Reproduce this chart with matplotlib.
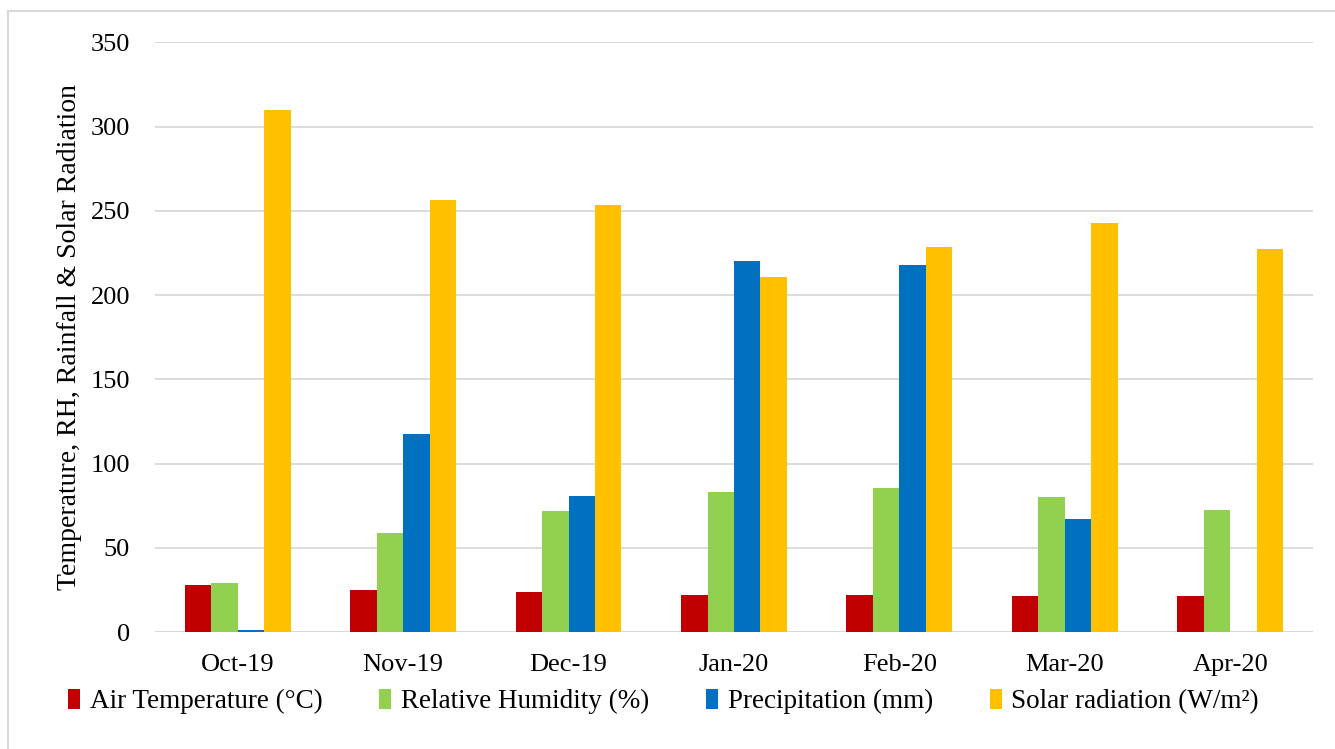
import matplotlib.pyplot as plt
from matplotlib.lines import Line2D
import numpy as np

plt.rcParams['font.family'] = ['Liberation Serif', 'DejaVu Serif']

months = ['Oct-19', 'Nov-19', 'Dec-19', 'Jan-20', 'Feb-20', 'Mar-20', 'Apr-20']
air_temp = [27.7, 25.1, 23.5, 22.2, 22.2, 21.1, 21.1]
rel_hum = [29.0, 58.5, 71.6, 83.3, 85.7, 80.1, 72.2]
precip = [1.0, 117.7, 80.9, 220.5, 217.9, 67.3, 0.0]
solar = [309.7, 256.3, 253.7, 210.8, 228.4, 242.6, 227.6]

labels = ['Air Temperature (°C)', 'Relative Humidity (%)',
          'Precipitation (mm)', 'Solar radiation (W/m²)']
colors = ['#C00000', '#92D050', '#0070C0', '#FFC000']

fig = plt.figure(figsize=(13.35, 7.49), dpi=100)
ax = fig.add_axes([0.1161, 0.1562, 0.8674, 0.7871])

x = np.arange(len(months))
w = 0.16
series = [air_temp, rel_hum, precip, solar]
for i, vals in enumerate(series):
    ax.bar(x + (i - 1.5) * w, vals, w, color=colors[i], label=labels[i],
           zorder=3, linewidth=0)

ax.set_xlim(-0.5, len(months) - 0.5)
ax.set_ylim(0, 350)
ax.set_yticks(range(0, 351, 50))
ax.set_xticks(x)
ax.set_xticklabels(months)
ax.yaxis.grid(True, color='#D9D9D9', linewidth=1.3, zorder=0)
ax.axhline(0, color='#D9D9D9', linewidth=1.5, zorder=2)
for s in ax.spines.values():
    s.set_visible(False)
ax.tick_params(axis='both', length=0, labelsize=19)
ax.tick_params(axis='y', pad=18)
ax.tick_params(axis='x', pad=16)
ax.set_ylabel('Temperature, RH, Rainfall & Solar Radiation', fontsize=20, labelpad=6)

fig.legend(loc='center', bbox_to_anchor=(0.497, 0.063), ncol=4, frameon=False,
           fontsize=19.5, handlelength=0.45, handleheight=0.75,
           handletextpad=0.35, columnspacing=2.1)

# light frame round the chart
fig.add_artist(Line2D([0.006, 0.006], [0, 0.985], color='#D9D9D9', linewidth=1.5))
fig.add_artist(Line2D([0.006, 1.0], [0.985, 0.985], color='#D9D9D9', linewidth=1.5))

fig.savefig('out.png', dpi=100)
